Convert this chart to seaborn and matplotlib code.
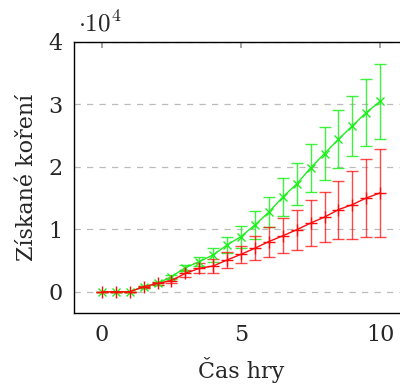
import numpy as np
import pandas as pd
import matplotlib
matplotlib.use("Agg")
import matplotlib.pyplot as plt
import seaborn as sns

# data
time = [0, 0.5, 1, 1.5, 2, 2.5, 3, 3.5, 4, 4.5, 5, 5.5, 6, 6.5, 7, 7.5, 8, 8.5, 9, 9.5, 10]
green_vals = [0, 0, 0, 800, 1340, 2400, 3860, 4820, 5900, 7500, 8840, 10700, 12750,
              15170, 17250, 19830, 22130, 24400, 26570, 28700, 30500]
green_err = [0, 0, 0, 150, 250, 350, 480, 700, 1150, 1250, 1770, 2200, 2380,
             2970, 3300, 3810, 4270, 4650, 4830, 5400, 6000]
red_vals = [0, 0, 0, 800, 1340, 1800, 2950, 3750, 4130, 5090, 6000, 6970, 8040,
            8960, 9930, 11000, 11960, 13150, 13950, 15020, 15830]
red_err = [0, 0, 0, 150, 250, 400, 600, 800, 1070, 1260, 1400, 1930, 2410,
           2810, 3220, 3620, 3970, 4640, 5440, 6300, 7050]
series_names = ["green", "red"]
x_ticks = [0, 5, 10]
y_ticks = [0, 10000, 20000, 30000, 40000]
y_tick_labels = ["0", "1", "2", "3", "4"]

GREEN = "#1ef01e"
RED = "#ff0a0a"

sns.set_theme(style="white")
plt.rcParams["font.family"] = ["DejaVu Serif"]
plt.rcParams["mathtext.fontset"] = "cm"

fig = plt.figure(figsize=(4.0, 3.85), dpi=100)
ax = fig.add_axes([0.185, 0.187, 0.835, 0.704])

ax.errorbar(time, green_vals, yerr=green_err, fmt="none", ecolor=GREEN, alpha=0.85,
            elinewidth=1.0, capsize=4, capthick=1.0, zorder=2)
ax.errorbar(time, red_vals, yerr=red_err, fmt="none", ecolor=RED, alpha=0.75,
            elinewidth=1.0, capsize=4, capthick=1.0, zorder=3)

for name, vals, col, mk, ms in [(series_names[0], green_vals, GREEN, "x", 6),
                                (series_names[1], red_vals, RED, "+", 8)]:
    d = pd.DataFrame({"t": time, "v": vals})
    sns.lineplot(data=d, x="t", y="v", color=col, marker=mk, markersize=ms,
                 markeredgewidth=1.0, markeredgecolor=col, markerfacecolor=col,
                 linewidth=1.0, ax=ax, zorder=4)

ax.set_xlim(-1, 11)
ax.set_ylim(-3400, 40000)
ax.set_xticks(x_ticks)
ax.set_xticklabels([str(v) for v in x_ticks])
ax.set_yticks(y_ticks)
ax.set_yticklabels(y_tick_labels)
ax.yaxis.grid(True, color="#bbbbbb", linestyle=(0, (5, 5)), linewidth=0.9)
ax.xaxis.grid(False)
ax.tick_params(axis="x", direction="in", length=4, color="#999999", top=True,
               labelsize=16, pad=8)
ax.tick_params(axis="y", direction="in", length=0, labelsize=16, pad=8)
for sp in ax.spines.values():
    sp.set_color("black")
    sp.set_linewidth(1.0)

ax.set_xlabel("Čas hry", fontsize=16, labelpad=8)
ax.set_ylabel("Získané koření", fontsize=16, labelpad=8)
fig.text(0.195, 0.905, r"$\cdot10^4$", fontsize=18, ha="left", va="bottom")

fig.savefig("out.png", dpi=100)
